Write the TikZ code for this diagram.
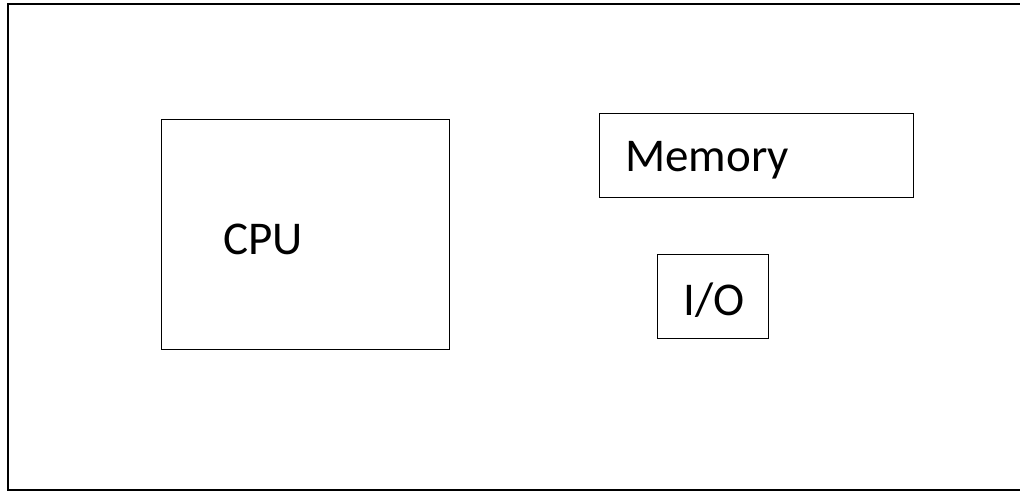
\documentclass[tikz,border=0pt]{standalone}
\usepackage{fontspec}
\setmainfont{Carlito}
\begin{document}
\begin{tikzpicture}[x=1pt,y=1pt,
  unit/.style={draw=black,line width=1.3pt,fill=none,inner sep=0pt,anchor=north west},
  lbl/.style={inner sep=0pt,anchor=base west,font=\fontsize{47}{56}\selectfont}]
\useasboundingbox (0,0) rectangle (1020,491);
\clip (0,0) rectangle (1020,491);
% outer frame, running off the right edge
\draw[line width=2pt] (1040,1.5) -- (8,1.5) -- (8,487) -- (1040,487);
% units
\node[unit,minimum width=288pt,minimum height=230pt] (cpu) at (161,372) {};
\node[unit,minimum width=314pt,minimum height=84pt] (mem) at (599,378) {};
\node[unit,minimum width=111pt,minimum height=84pt] (io) at (657,237) {};
% labels
\node[lbl] (cputxt) at (223,237) {CPU};
\node[lbl] (memtxt) at (625,319.5) {Memory};
\node[lbl] (iotxt) at (683,176) {I/O};
\end{tikzpicture}
\end{document}
